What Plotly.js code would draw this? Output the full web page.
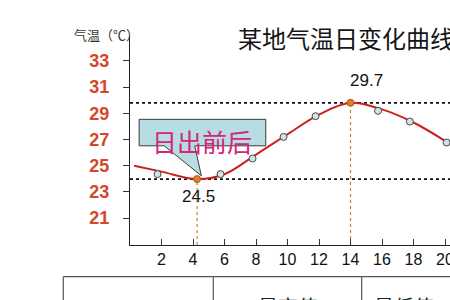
<!DOCTYPE html>
<html>
<head>
<meta charset="utf-8">
<script src="https://cdn.plot.ly/plotly-3.0.1.min.js"></script>
<style>
html,body{margin:0;padding:0;background:#fff;overflow:hidden;width:450px;height:300px;}
#chart{width:540px;height:300px;}
</style>
</head>
<body>
<div id="chart"></div>
<script>
// ---- data ----
const titleText = "某地气温日变化曲线";
const yAxisLabel = "气温（℃）";
const calloutText = "日出前后";
const tableHeaders = ["最高值", "最低值"];
const xTickVals = [2, 4, 6, 8, 10, 12, 14, 16, 18, 20, 22];
const yTickVals = [21, 23, 25, 27, 29, 31, 33];

// observation points (hour, °C)
const pointHours = [1.75, 4.26, 5.75, 7.78, 9.75, 11.78, 14, 15.75, 17.77, 20.1];
const pointTemps = [24.36, 23.98, 24.36, 25.55, 27.2, 28.78, 29.8, 29.19, 28.37, 26.77];

// smoothed curve (hour, °C)
const curveHours = [0.26, 2, 4.26, 6, 8, 10, 12, 14, 16, 18, 20, 21];
const curveTemps = [25.0, 24.55, 23.98, 24.35, 25.85, 27.4, 28.9, 29.8, 29.3, 28.3, 26.9, 26.1];

// labels for extremes
const maxLabel = "29.7";
const minLabel = "24.5";

// ---- derived ----
const maxIdx = pointTemps.indexOf(Math.max(...pointTemps));
const minIdx = pointTemps.indexOf(Math.min(...pointTemps));
const markerColors = pointTemps.map((t, i) => (i === maxIdx || i === minIdx) ? "#d9822b" : "#cfe2e6");
const markerLines = pointTemps.map((t, i) => (i === maxIdx || i === minIdx) ? "#b5531c" : "#4a4a4a");

const yMin = 18.95, yMax = 34.9;
const xMin = 0, xMax = 24;
const W = 540, plotL = 130, plotW = 24 * 15.75; // 378 px
const plotT = 36, plotH = 209;

const curve = {
  x: curveHours, y: curveTemps, type: "scatter", mode: "lines",
  line: {color: "#cc2020", width: 2, shape: "spline", smoothing: 1.0},
  hoverinfo: "skip", showlegend: false
};
const points = {
  x: pointHours, y: pointTemps, type: "scatter", mode: "markers",
  marker: {size: 7, color: markerColors, line: {color: markerLines, width: 1}},
  showlegend: false
};

const cbTop = 28.54, cbBot = 26.52, cbL = 0.58, cbR = 8.62;
const ptL = 2.17, ptR = 4.11, tipX = 4.53, tipY = 24.23;
const calloutPath = `M${cbL},${cbTop} L${cbR},${cbTop} L${cbR},${cbBot} L${ptR},${cbBot} L${tipX},${tipY} L${ptL},${cbBot} L${cbL},${cbBot} Z`;

const cjk = '"Noto Sans CJK SC", "Noto Sans", sans-serif';
const lat = '"Liberation Sans", Arial, sans-serif';

// helpers converting page pixels to paper units
const px = v => (v - plotL) / plotW;
const py = v => (plotT + plotH - v) / plotH;
const tblTop = py(276.7), tblLeft = px(63.3), tblDiv1 = px(213.3), tblDiv2 = px(361.7);
const colW = tblDiv2 - tblDiv1;

const shapes = [
  {type: "line", xref: "paper", x0: 0, x1: 1, yref: "y", y0: pointTemps[maxIdx], y1: pointTemps[maxIdx],
   line: {color: "#111", width: 1.6, dash: "dot"}, layer: "below"},
  {type: "line", xref: "paper", x0: 0, x1: 1, yref: "y", y0: pointTemps[minIdx], y1: pointTemps[minIdx],
   line: {color: "#111", width: 1.6, dash: "dot"}, layer: "below"},
  {type: "line", xref: "x", x0: pointHours[maxIdx], x1: pointHours[maxIdx], yref: "y", y0: yMin, y1: pointTemps[maxIdx],
   line: {color: "#c8862a", width: 1.2, dash: "dot"}, layer: "below"},
  {type: "line", xref: "x", x0: pointHours[minIdx], x1: pointHours[minIdx], yref: "y", y0: yMin, y1: pointTemps[minIdx],
   line: {color: "#c8862a", width: 1.2, dash: "dot"}, layer: "below"},
  {type: "path", xref: "x", yref: "y", path: calloutPath,
   fillcolor: "#b7dde2", line: {color: "#3a3a3a", width: 1}, layer: "above"},
  // table lines
  {type: "line", xref: "paper", yref: "paper", x0: tblLeft, x1: 1.1, y0: tblTop, y1: tblTop, line: {color: "#555", width: 1.2}},
  {type: "line", xref: "paper", yref: "paper", x0: tblLeft, x1: tblLeft, y0: tblTop, y1: -0.6, line: {color: "#555", width: 1.2}},
  {type: "line", xref: "paper", yref: "paper", x0: tblDiv1, x1: tblDiv1, y0: tblTop, y1: -0.6, line: {color: "#555", width: 1.2}},
  {type: "line", xref: "paper", yref: "paper", x0: tblDiv2, x1: tblDiv2, y0: tblTop, y1: -0.6, line: {color: "#555", width: 1.2}}
];

const annotations = [
  {xref: "x", yref: "y", x: 15, y: 31.5, text: maxLabel, showarrow: false,
   font: {family: lat, size: 17, color: "#111"}},
  {xref: "x", yref: "y", x: 4.32, y: 22.65, text: minLabel, showarrow: false,
   font: {family: lat, size: 17, color: "#111"}},
  {xref: "x", yref: "y", x: 4.54, y: 26.88, text: calloutText, showarrow: false,
   font: {family: cjk, size: 25, color: "#d4267a"}},
  {xref: "paper", yref: "paper", x: px(72.3), xanchor: "left", y: 1.005, yanchor: "middle", text: yAxisLabel, showarrow: false,
   font: {family: cjk, size: 13, color: "#333"}},
  {xref: "paper", yref: "paper", x: tblDiv1 + colW / 2, y: py(290), yanchor: "top", text: tableHeaders[0], showarrow: false,
   font: {family: cjk, size: 20, color: "#222"}},
  {xref: "paper", yref: "paper", x: tblDiv2 + colW / 2, y: py(290), yanchor: "top", text: tableHeaders[1], showarrow: false,
   font: {family: cjk, size: 20, color: "#222"}}
];

const layout = {
  width: W, height: 300,
  margin: {l: plotL, r: W - plotL - plotW, t: plotT, b: 300 - plotT - plotH, pad: 0},
  paper_bgcolor: "#fff", plot_bgcolor: "#fff",
  title: {text: titleText, xref: "container", yref: "container", x: 238 / W, xanchor: "left",
          y: 1 - 40 / 300, yanchor: "middle", font: {family: cjk, size: 24, color: "#151515"}},
  xaxis: {range: [xMin, xMax], tickvals: xTickVals, ticks: "inside", ticklen: 6, tickcolor: "#333",
          showline: true, linecolor: "#222", linewidth: 1.2, showgrid: false, zeroline: false,
          tickfont: {family: lat, size: 16, color: "#111"}, fixedrange: true},
  yaxis: {range: [yMin, yMax], tickvals: yTickVals, ticks: "outside", ticklen: 6, tickcolor: "#333",
          showline: true, linecolor: "#222", linewidth: 1.2, showgrid: false, zeroline: false,
          ticklabelstandoff: 10,
          tickfont: {family: lat, size: 18, color: "#d4472a", weight: "bold"}, fixedrange: true},
  shapes: shapes,
  annotations: annotations,
  showlegend: false
};

Plotly.newPlot("chart", [curve, points], layout, {displayModeBar: false, staticPlot: true});
</script>
</body>
</html>
